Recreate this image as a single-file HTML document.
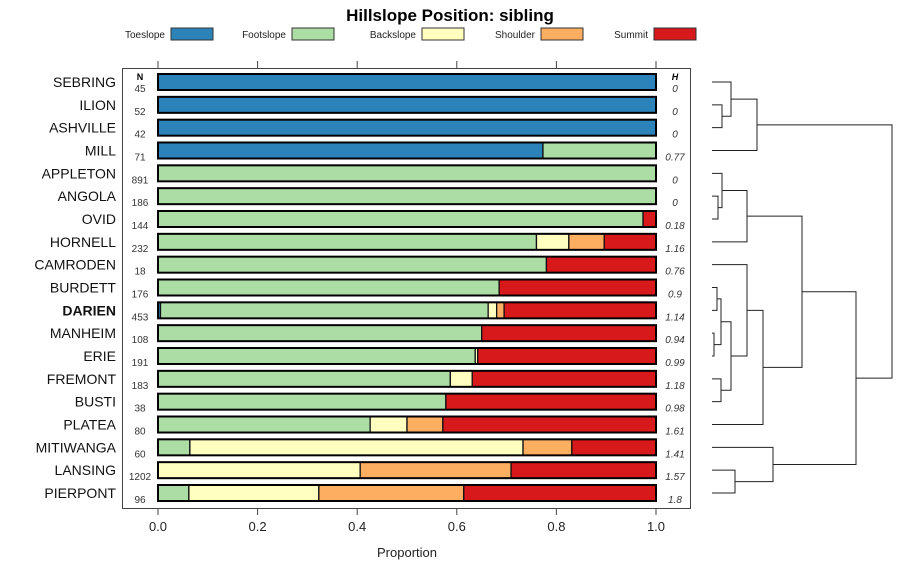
<!DOCTYPE html>
<html><head><meta charset="utf-8"><style>
body{margin:0;background:#fff}
svg{display:block;font-family:"Liberation Sans",sans-serif}
</style></head><body>
<svg id="c" width="900" height="580" xmlns="http://www.w3.org/2000/svg"></svg>
<script>
const names=["SEBRING","ILION","ASHVILLE","MILL","APPLETON","ANGOLA","OVID","HORNELL","CAMRODEN","BURDETT","DARIEN","MANHEIM","ERIE","FREMONT","BUSTI","PLATEA","MITIWANGA","LANSING","PIERPONT"];
const nVals=[45,52,42,71,891,186,144,232,18,176,453,108,191,183,38,80,60,1202,96];
const hVals=["0","0","0","0.77","0","0","0.18","1.16","0.76","0.9","1.14","0.94","0.99","1.18","0.98","1.61","1.41","1.57","1.8"];
const categories=["Toeslope","Footslope","Backslope","Shoulder","Summit"];
const colors=["#2b83ba","#abdda4","#ffffbf","#fdae61","#d7191c"];
const toeslope=[1,1,1,0.773,0,0,0,0,0,0,0.005,0,0,0,0,0,0,0,0];
const footslope=[0,0,0,0.227,1,1,0.974,0.76,0.78,0.685,0.658,0.65,0.637,0.587,0.578,0.426,0.064,0,0.062];
const backslope=[0,0,0,0,0,0,0,0.065,0,0,0.017,0,0.005,0.044,0,0.074,0.669,0.406,0.261];
const shoulder=[0,0,0,0,0,0,0,0.071,0,0,0.015,0,0,0,0,0.072,0.098,0.303,0.291];
const summit=[0,0,0,0,0,0,0.026,0.104,0.22,0.315,0.305,0.35,0.358,0.369,0.422,0.428,0.169,0.291,0.386];
const xTicks=[0,0.2,0.4,0.6,0.8,1.0];
// dendrogram merges: [left, right, height] ; negative = leaf index (-(i+1)), positive = merge number (1-based)
const merges=[[-2,-3,10],[-1,1,19],[2,-4,45],[-6,-7,6],[-5,4,10],[5,-8,35],[-10,-11,5],[-12,-13,2],[7,8,9],[-14,-15,9],[9,10,19],[-9,11,35],[12,-16,51],[6,13,90],[-18,-19,23],[-17,15,61],[14,16,144],[3,17,180]];

const svg=document.getElementById('c');const NS='http://www.w3.org/2000/svg';
function el(t,a,txt){const e=document.createElementNS(NS,t);for(const k in a)e.setAttribute(k,a[k]);if(txt!==undefined)e.textContent=txt;svg.appendChild(e);return e;}
const x0=158,x1=656;const xs=v=>x0+v*(x1-x0);
const yTop=82,step=(493-82)/18;const ys=i=>yTop+i*step;
const bh=16;
let t=el('text',{x:450,y:21,'text-anchor':'middle','font-size':17,'font-weight':'bold'},'Hillslope Position: sibling');

const legX=[171,292,422,541,654];
categories.forEach((c,i)=>{
  let r=el('rect',{x:legX[i],y:28,width:42,height:12,fill:colors[i],stroke:'#333','stroke-width':1});
  
  let tx=el('text',{x:legX[i]-6,y:38,'text-anchor':'end','font-size':10,fill:'#222'},c);
  
});
let box=el('rect',{x:122.5,y:68.5,width:568,height:440,fill:'none',stroke:'#444','stroke-width':1});

xTicks.forEach(v=>{
  let a=el('line',{x1:xs(v),x2:xs(v),y1:61,y2:68,stroke:'#444'});
  let b=el('line',{x1:xs(v),x2:xs(v),y1:508,y2:515,stroke:'#444'});
  let l=el('text',{x:xs(v),y:531,'text-anchor':'middle','font-size':13,fill:'#222'},v.toFixed(1));
  
});
let xt=el('text',{x:407,y:557,'text-anchor':'middle','font-size':13,fill:'#222'},'Proportion');

let nh=el('text',{x:140,y:80,'text-anchor':'middle','font-size':9,'font-weight':'bold'},'N');
let hh=el('text',{x:675,y:80,'text-anchor':'middle','font-size':9,'font-weight':'bold','font-style':'italic'},'H');
const series=[toeslope,footslope,backslope,shoulder,summit];
names.forEach((n,i)=>{
  const y=ys(i);
  let lb=el('text',{x:116,y:y+5,'text-anchor':'end','font-size':14,fill:'#111','font-weight':n==='DARIEN'?'bold':'normal'},n);
  
  let nt=el('text',{x:140,y:y+10,'text-anchor':'middle','font-size':10,fill:'#333'},String(nVals[i]));
  
  let ht=el('text',{x:675,y:y+10,'text-anchor':'middle','font-size':10,'font-style':'italic',fill:'#333'},hVals[i]);
  
  let cum=0;
  series.forEach((s,k)=>{
    const v=s[i];if(v<=0)return;
    let r=el('rect',{x:xs(cum),y:y-bh/2,width:xs(cum+v)-xs(cum),height:bh,fill:colors[k],stroke:'#111','stroke-width':1.3});
    
    cum+=v;
  });
  let o=el('rect',{x:x0,y:y-bh/2,width:x1-x0,height:bh,fill:'none',stroke:'#000','stroke-width':2});
  
});
// dendrogram
const dx0=712,hMax=180,dx1=892;const hx=h=>dx0+h/hMax*(dx1-dx0);
const node=[];
function pos(id){return id<0?{y:ys(-id-1),x:dx0}:node[id-1];}
merges.forEach(m=>{
  const a=pos(m[0]),b=pos(m[1]),x=hx(m[2]);
  let p=el('path',{d:`M${a.x},${a.y}H${x}V${b.y}H${b.x}`,fill:'none',stroke:'#222','stroke-width':1});
  
  node.push({x:x,y:(a.y+b.y)/2});
});
</script>
</body></html>
